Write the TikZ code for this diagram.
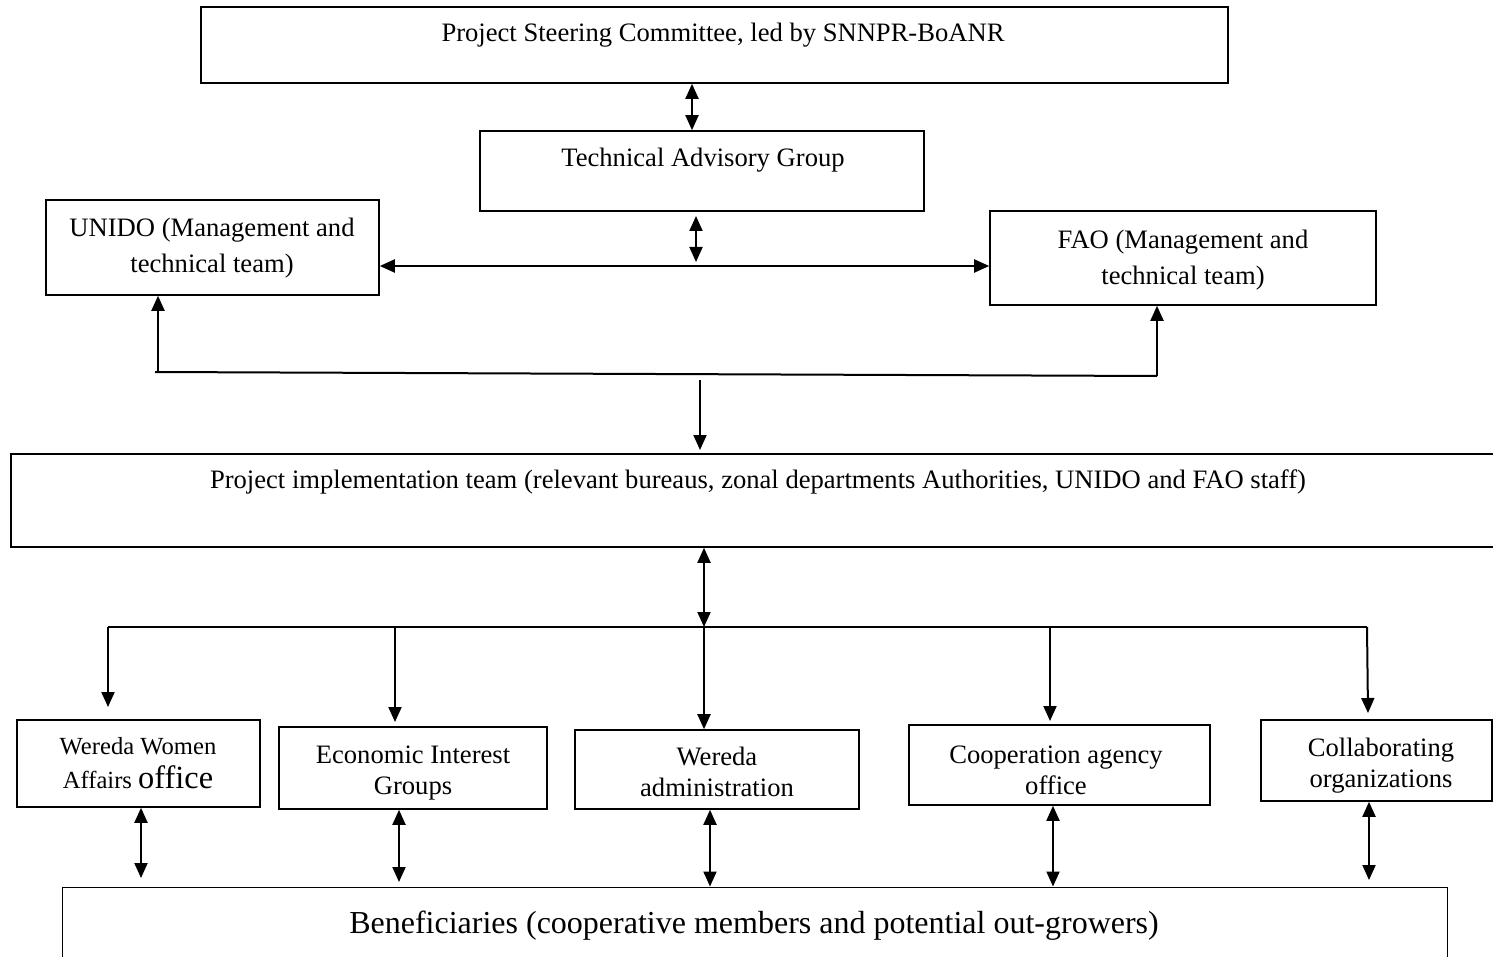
\documentclass[tikz,border=0pt]{standalone}
\usepackage{fontspec}
\setmainfont{Liberation Serif}
\usetikzlibrary{fit,arrows.meta}
\tikzset{
  box/.style={draw, line width=0.8pt, inner sep=0pt},
  boxthin/.style={draw, line width=0.5pt, inner sep=0pt},
  txt/.style={inner sep=0pt, align=center, anchor=base, font=\fontsize{13.3}{18}\selectfont},
  ln/.style={line width=1pt},
  arr/.style={line width=1pt, -{Triangle[length=7.5pt,width=6.5pt]}},
  darr/.style={line width=1pt, {Triangle[length=7.5pt,width=6.5pt]}-{Triangle[length=7.5pt,width=6.5pt]}},
}
\begin{document}
\begin{tikzpicture}[x=0.5pt,y=-0.5pt]
\useasboundingbox (0,0) rectangle (1493,957);
% boxes
\node[box, fit={(201,7) (1228,83)}] (psc) {};
\node[txt] (psct) at (723,42) {Project Steering Committee, led by SNNPR-BoANR};
\node[box, fit={(480,131) (924,211)}] (tag) {};
\node[txt] (tagt) at (703,167) {Technical Advisory Group};
\node[box, fit={(46,200) (379,295)}] (unido) {};
\node[txt] (unidot) at (212,272) {UNIDO (Management and\\technical team)};
\node[box, fit={(990,211) (1376,305)}] (fao) {};
\node[txt] (faot) at (1183,285) {FAO (Management and\\technical team)};
\node[box, fit={(11,454) (1520,547)}] (pit) {};
\node[txt] (pitt) at (758,488) {Project implementation team (relevant bureaus, zonal departments Authorities, UNIDO and FAO staff)};
\node[box, fit={(17,720) (260,807)}] (women) {};
\node[txt, font=\fontsize{12.3}{17}\selectfont] (woment) at (138,788) {Wereda Women\\Affairs {\fontsize{16.2}{17}\selectfont office}};
\node[box, fit={(279,727) (547,809)}] (eig) {};
\node[txt, font=\fontsize{13.3}{15.5}\selectfont] (eigt) at (413,794) {Economic Interest\\Groups};
\node[box, fit={(575,730) (859,809)}] (adm) {};
\node[txt, font=\fontsize{13.3}{15.5}\selectfont] (admt) at (717,796) {Wereda\\administration};
\node[box, fit={(909,725) (1210,805)}] (coop) {};
\node[txt, font=\fontsize{13.3}{15.5}\selectfont] (coopt) at (1056,794) {Cooperation agency\\office};
\node[box, fit={(1261,720) (1492,801)}] (collab) {};
\node[txt, font=\fontsize{13.3}{15.5}\selectfont] (collabt) at (1381,787) {Collaborating\\organizations};
\node[boxthin, fit={(62,887) (1447,970)}] (ben) {};
\node[txt, font=\fontsize{16}{19}\selectfont] (bent) at (754,933) {Beneficiaries (cooperative members and potential out-growers)};
% coordinates
\coordinate (tagb) at (696,216);
\coordinate (hl) at (696,262);
\coordinate (busL) at (155,372);
\coordinate (busR) at (1157,376);
\coordinate (busM) at (700,380);
\coordinate (pitin) at (700,450);
\coordinate (pitb) at (704,627);
\coordinate (dL) at (108,627);
\coordinate (dR) at (1367,627);
% connectors
\draw[darr] (psc.south -| 692,0) -- (tag.north -| 692,0);
\draw[darr] (tagb) -- (hl);
\draw[darr] (unido.east |- 0,266) -- (fao.west |- 0,266);
\draw[ln] (busL) -- (busR);
\draw[arr] (busL -| 158,0) -- (unido.south -| 158,0);
\draw[arr] (busR) -- (fao.south -| busR);
\draw[arr] (busM) -- (pitin);
\draw[darr] (pit.south -| pitb) -- (pitb);
\draw[ln] (dL) -- (dR);
\draw[arr] (dL) -- (108,707);
\draw[arr] (395,627) -- (395,722);
\draw[arr] (704,627) -- (adm.north -| 704,0);
\draw[arr] (1050,627) -- (1050,721);
\draw[arr] (dR) -- (1368,713);
\draw[darr] (women.south -| 141,0) -- (141,878);
\draw[darr] (eig.south -| 399,0) -- (399,882);
\draw[darr] (adm.south -| 710,0) -- (ben.north -| 710,0);
\draw[darr] (coop.south -| 1053,0) -- (ben.north -| 1053,0);
\draw[darr] (collab.south -| 1369,0) -- (1369,880);
\end{tikzpicture}
\end{document}
